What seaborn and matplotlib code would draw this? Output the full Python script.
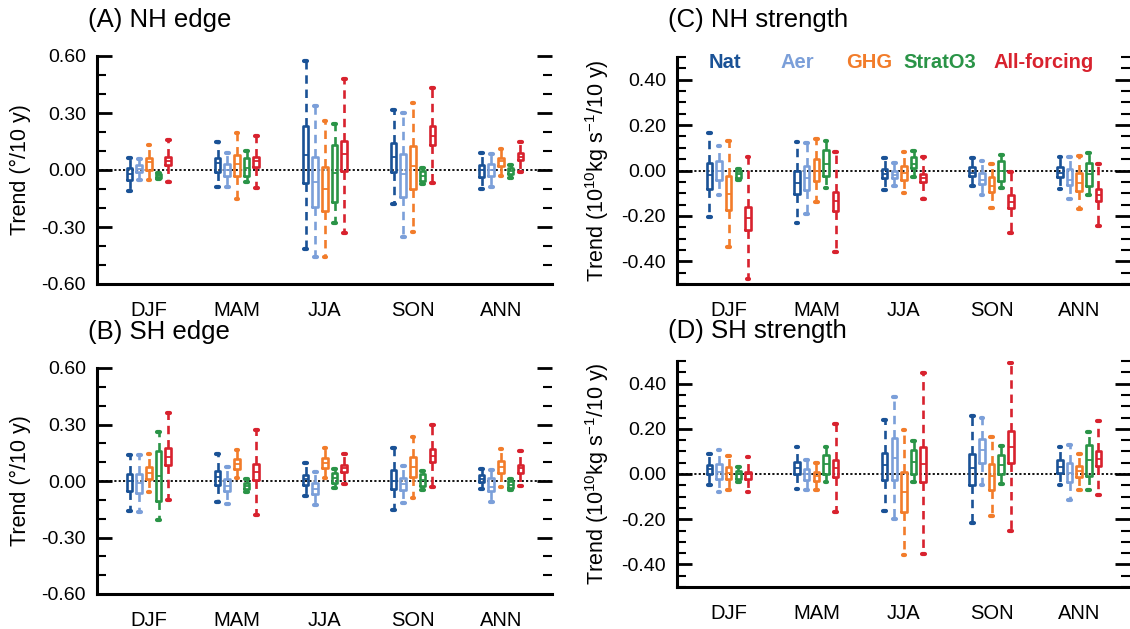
import numpy as np
import pandas as pd
import matplotlib
matplotlib.use("Agg")
import matplotlib.pyplot as plt
from matplotlib.ticker import MultipleLocator, FixedLocator
import seaborn as sns

sns.set_style("white")
plt.rcParams["font.family"] = ["Liberation Sans", "DejaVu Sans"]
plt.rcParams["mathtext.fontset"] = "custom"
plt.rcParams["mathtext.rm"] = "Liberation Sans"
plt.rcParams["mathtext.default"] = "regular"
plt.rcParams["axes.unicode_minus"] = False
for key in ["text.color", "axes.labelcolor", "xtick.color", "ytick.color"]:
    plt.rcParams[key] = "black"

SEASONS = ["DJF", "MAM", "JJA", "SON", "ANN"]
FORCINGS = ["Nat", "Aer", "GHG", "StratO3", "All-forcing"]
COLORS = ["#1a5296", "#7b9fd9", "#f27c2a", "#2a9447", "#d8222e"]

# Each tuple: (lower whisker, q1, median, q3, upper whisker), one per season
# (A) NH edge
A_NAT = [(-0.11, -0.05, -0.02, 0.01, 0.065), (-0.09, -0.01, 0.035, 0.065, 0.145),
         (-0.415, -0.07, 0.08, 0.23, 0.575), (-0.18, -0.01, 0.07, 0.14, 0.315),
         (-0.10, -0.035, 0.0, 0.025, 0.09)]
A_AER = [(-0.055, -0.01, 0.005, 0.025, 0.06), (-0.09, -0.03, 0.0, 0.03, 0.09),
         (-0.46, -0.195, -0.065, 0.07, 0.335), (-0.355, -0.14, -0.02, 0.085, 0.30),
         (-0.09, -0.03, 0.0, 0.03, 0.085)]
A_GHG = [(-0.05, 0.0, 0.04, 0.065, 0.13), (-0.15, -0.03, 0.03, 0.08, 0.195),
         (-0.46, -0.215, -0.10, 0.015, 0.26), (-0.325, -0.10, 0.02, 0.125, 0.355),
         (-0.03, 0.02, 0.045, 0.065, 0.11)]
A_O3 = [(-0.045, -0.04, -0.03, -0.02, -0.015), (-0.065, -0.03, 0.01, 0.065, 0.10),
        (-0.28, -0.17, -0.015, 0.13, 0.24), (-0.075, -0.06, -0.03, -0.005, 0.01),
        (-0.04, -0.02, -0.005, 0.01, 0.025)]
A_ALL = [(-0.065, 0.025, 0.05, 0.07, 0.16), (-0.095, 0.015, 0.045, 0.07, 0.18),
         (-0.33, -0.005, 0.085, 0.155, 0.48), (-0.07, 0.13, 0.18, 0.23, 0.43),
         (-0.01, 0.055, 0.07, 0.09, 0.15)]

# (B) SH edge
B_NAT = [(-0.16, -0.055, 0.0, 0.035, 0.14), (-0.11, -0.02, 0.02, 0.055, 0.145),
         (-0.08, -0.02, 0.01, 0.03, 0.095), (-0.155, -0.045, 0.0, 0.06, 0.175),
         (-0.045, -0.005, 0.01, 0.03, 0.065)]
B_AER = [(-0.165, -0.065, -0.01, 0.035, 0.14), (-0.12, -0.055, -0.025, 0.01, 0.075),
         (-0.13, -0.07, -0.04, -0.01, 0.05), (-0.115, -0.05, -0.015, 0.015, 0.08),
         (-0.11, -0.055, -0.03, 0.015, 0.06)]
B_GHG = [(-0.06, 0.01, 0.04, 0.075, 0.145), (0.015, 0.065, 0.09, 0.115, 0.165),
         (0.015, 0.07, 0.095, 0.12, 0.175), (-0.09, 0.02, 0.075, 0.13, 0.235),
         (-0.03, 0.04, 0.075, 0.105, 0.17)]
B_O3 = [(-0.205, -0.105, 0.025, 0.16, 0.26), (-0.06, -0.045, -0.025, -0.01, 0.01),
        (-0.035, -0.01, 0.015, 0.04, 0.065), (-0.05, -0.025, 0.005, 0.035, 0.055),
        (-0.05, -0.035, -0.02, 0.0, 0.01)]
B_ALL = [(-0.10, 0.085, 0.13, 0.175, 0.36), (-0.18, 0.005, 0.05, 0.09, 0.27),
         (-0.015, 0.05, 0.07, 0.085, 0.145), (-0.03, 0.10, 0.135, 0.17, 0.30),
         (-0.025, 0.045, 0.07, 0.085, 0.16)]

# (C) NH strength
C_NAT = [(-0.205, -0.08, -0.02, 0.035, 0.165), (-0.23, -0.105, -0.055, 0.0, 0.125),
         (-0.085, -0.035, -0.015, 0.005, 0.055), (-0.07, -0.025, -0.01, 0.015, 0.055),
         (-0.08, -0.03, -0.01, 0.015, 0.06)]
C_AER = [(-0.11, -0.04, 0.0, 0.04, 0.11), (-0.19, -0.085, -0.035, 0.02, 0.12),
         (-0.07, -0.035, -0.02, 0.0, 0.035), (-0.11, -0.06, -0.04, -0.01, 0.04),
         (-0.125, -0.065, -0.04, 0.005, 0.06)]
C_GHG = [(-0.335, -0.175, -0.105, -0.025, 0.13), (-0.14, -0.045, 0.0, 0.05, 0.14),
         (-0.10, -0.04, -0.01, 0.02, 0.08), (-0.165, -0.095, -0.07, -0.03, 0.03),
         (-0.17, -0.09, -0.055, -0.01, 0.065)]
C_O3 = [(-0.04, -0.035, -0.015, 0.0, 0.005), (-0.075, -0.025, 0.03, 0.09, 0.13),
        (-0.03, 0.01, 0.03, 0.06, 0.085), (-0.075, -0.045, 0.0, 0.04, 0.07),
        (-0.11, -0.07, -0.015, 0.035, 0.075)]
C_ALL = [(-0.48, -0.26, -0.21, -0.16, 0.06), (-0.36, -0.18, -0.135, -0.095, 0.08),
         (-0.125, -0.05, -0.035, -0.015, 0.06), (-0.275, -0.165, -0.14, -0.11, -0.005),
         (-0.245, -0.135, -0.11, -0.08, 0.03)]

# (D) SH strength
D_NAT = [(-0.05, 0.0, 0.02, 0.04, 0.09), (-0.065, 0.0, 0.025, 0.055, 0.12),
         (-0.165, -0.025, 0.04, 0.095, 0.24), (-0.215, -0.05, 0.025, 0.09, 0.255),
         (-0.05, 0.005, 0.03, 0.06, 0.12)]
D_AER = [(-0.08, -0.02, 0.01, 0.045, 0.105), (-0.07, -0.025, 0.0, 0.02, 0.06),
         (-0.20, -0.025, 0.07, 0.16, 0.34), (-0.05, 0.05, 0.105, 0.155, 0.25),
         (-0.115, -0.035, 0.005, 0.05, 0.13)]
D_GHG = [(-0.07, -0.02, 0.005, 0.03, 0.08), (-0.07, -0.03, -0.01, 0.01, 0.05),
         (-0.36, -0.17, -0.08, 0.01, 0.195), (-0.185, -0.07, -0.01, 0.045, 0.165),
         (-0.07, -0.015, 0.015, 0.035, 0.09)]
D_O3 = [(-0.035, -0.02, 0.0, 0.015, 0.03), (-0.035, 0.0, 0.045, 0.085, 0.12),
        (-0.035, 0.0, 0.055, 0.105, 0.145), (-0.045, 0.0, 0.04, 0.085, 0.125),
        (-0.07, -0.01, 0.06, 0.13, 0.185)]
D_ALL = [(-0.08, -0.02, 0.0, 0.01, 0.075), (-0.17, -0.015, 0.025, 0.06, 0.22),
         (-0.355, -0.035, 0.045, 0.12, 0.445), (-0.25, 0.05, 0.12, 0.19, 0.49),
         (-0.095, 0.035, 0.065, 0.10, 0.235)]

PANELS = [
    ("(A) NH edge", [A_NAT, A_AER, A_GHG, A_O3, A_ALL], "edge"),
    ("(C) NH strength", [C_NAT, C_AER, C_GHG, C_O3, C_ALL], "strength"),
    ("(B) SH edge", [B_NAT, B_AER, B_GHG, B_O3, B_ALL], "edge"),
    ("(D) SH strength", [D_NAT, D_AER, D_GHG, D_O3, D_ALL], "strength"),
]

W, H = 1130, 629
fig = plt.figure(figsize=(W / 100, H / 100), dpi=100)

# axes rectangles in pixels: left, top, right, bottom ; title centre y
RECTS = [(97, 56, 552, 284, 20), (677, 57, 1130, 284, 20),
         (97, 368, 552, 594, 332), (677, 361, 1130, 587, 331)]


def long_frame(series_list):
    rows = []
    for f, series in zip(FORCINGS, series_list):
        for s, stats in zip(SEASONS, series):
            for v in stats:
                rows.append((s, f, v))
    return pd.DataFrame(rows, columns=["season", "forcing", "trend"])


for (title, series_list, kind), (l, t, r, b, ty) in zip(PANELS, RECTS):
    ax = fig.add_axes([l / W, 1 - b / H, (r - l) / W, (b - t) / H])
    df = long_frame(series_list)
    sns.boxplot(data=df, x="season", y="trend", hue="forcing",
                order=SEASONS, hue_order=FORCINGS, palette=COLORS,
                fill=False, width=0.55, gap=0.42, whis=(0, 100),
                showfliers=False, linewidth=1.9,
                whiskerprops=dict(linestyle=(0, (3.2, 2.2)), linewidth=1.9),
                capprops=dict(linewidth=3.0),
                medianprops=dict(linewidth=1.3),
                legend=False, ax=ax)
    ax.axhline(0, color="black", lw=1.3, ls=(0, (1.2, 1.2)), zorder=0)
    ax.set_xlim(-0.59, 4.58)
    if kind == "edge":
        ax.set_ylim(-0.6, 0.6)
        ax.yaxis.set_major_locator(FixedLocator([-0.6, -0.3, 0.0, 0.3, 0.6]))
        ax.yaxis.set_minor_locator(MultipleLocator(0.1))
        ax.set_ylabel("Trend (°/10 y)", fontsize=15.5)
    else:
        ax.set_ylim(-0.5, 0.5)
        ax.yaxis.set_major_locator(FixedLocator([-0.4, -0.2, 0.0, 0.2, 0.4]))
        ax.yaxis.set_minor_locator(MultipleLocator(0.05))
        ax.set_ylabel("Trend (10$^{10}$kg s$^{-1}$/10 y)", fontsize=15.5)
    ax.yaxis.set_major_formatter(matplotlib.ticker.FormatStrFormatter("%.2f"))
    ax.yaxis.set_label_coords((31 - l + (0 if l < 600 else 580)) / (r - l), 0.5)
    ax.set_xlabel("")
    for sp in ["top", "right"]:
        ax.spines[sp].set_visible(False)
    for sp in ["left", "bottom"]:
        ax.spines[sp].set_linewidth(2.2)
        ax.spines[sp].set_color("black")
    ax.tick_params(axis="y", which="both", direction="in", left=True, right=True,
                   labelsize=14, pad=8, colors="black")
    ax.tick_params(axis="y", which="major", length=11, width=2.0)
    ax.tick_params(axis="y", which="minor", length=6.5, width=1.5)
    ax.tick_params(axis="x", length=0, pad=12, labelsize=14.5)
    fig.text((l - 9) / W, 1 - ty / H, title, fontsize=18.5,
             ha="left", va="center")
    if title.startswith("(C)"):
        centers = [725, 797, 869, 940, 1044]
        for name, col, cx in zip(FORCINGS, COLORS, centers):
            ax.text((cx - l) / (r - l), (b - 63) / (b - t), name, color=col,
                    fontsize=14.5, fontweight="bold", ha="center", va="center",
                    transform=ax.transAxes)

fig.savefig("out.png", dpi=100)
